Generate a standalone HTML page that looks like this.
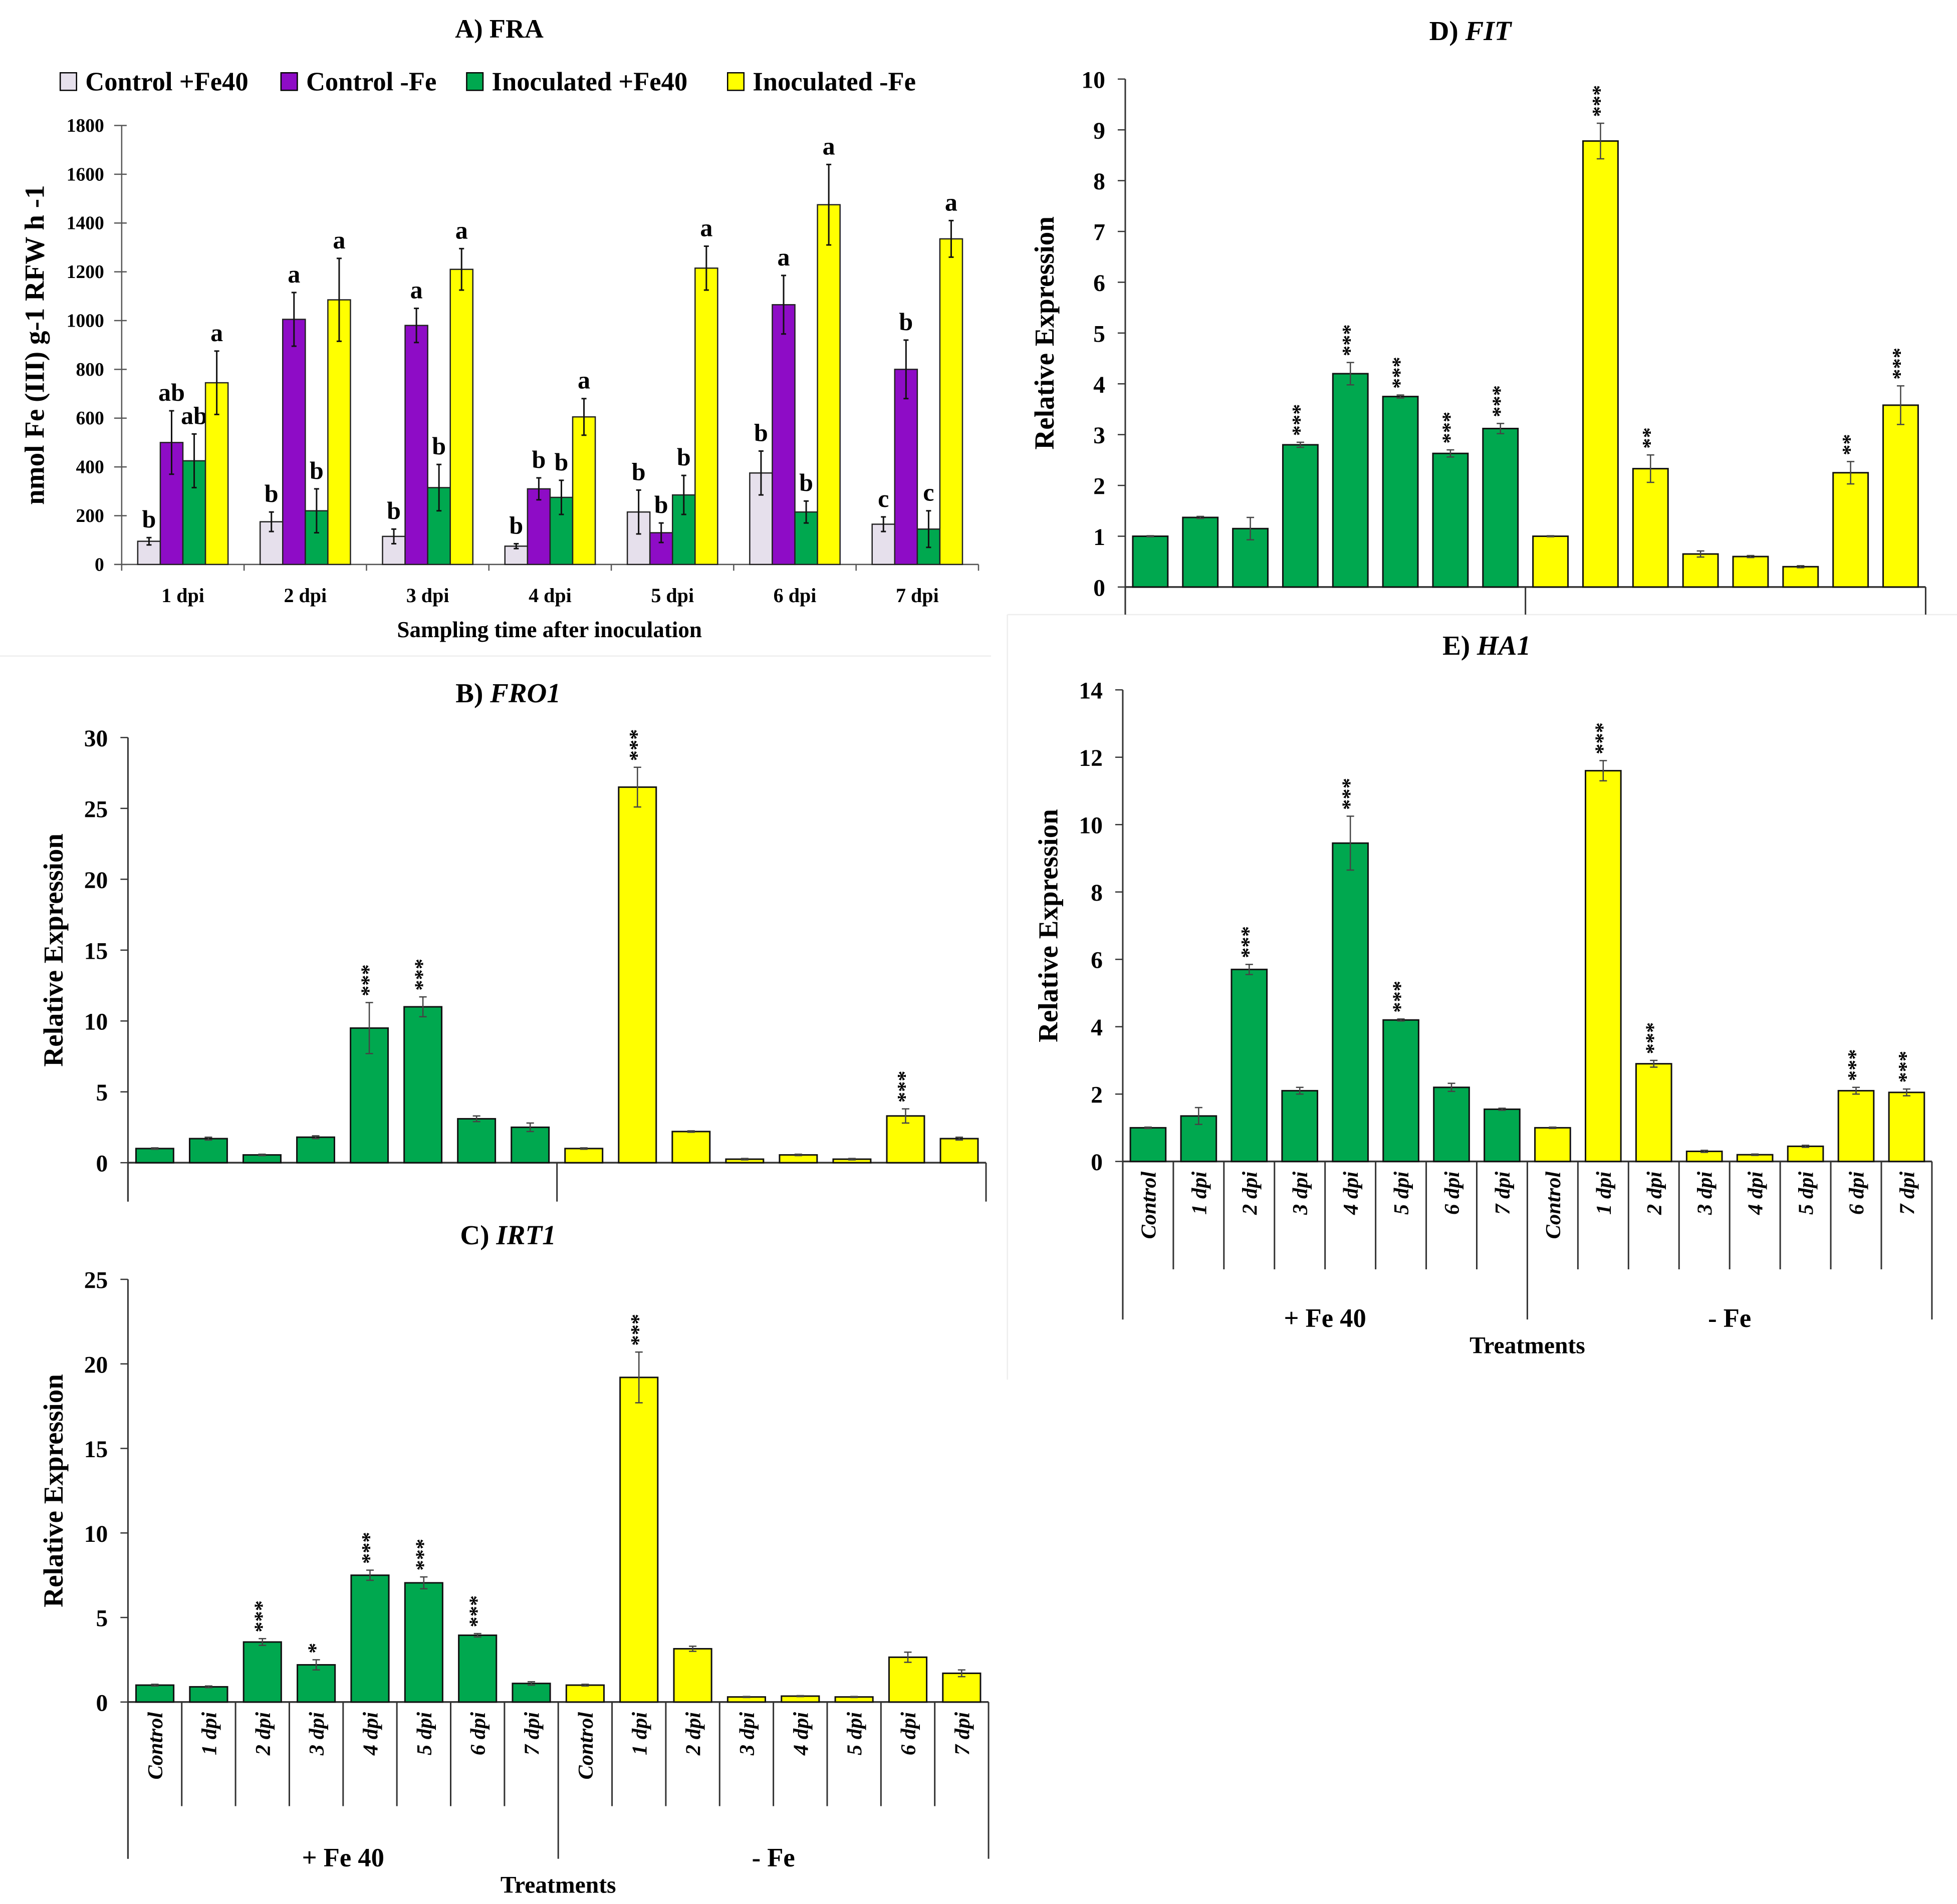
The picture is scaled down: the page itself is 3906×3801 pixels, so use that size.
<!DOCTYPE html>
<html><head><meta charset="utf-8"><style>
html,body{margin:0;padding:0;background:#fff}
svg{display:block}
text{font-family:"Liberation Serif",serif;font-weight:bold;fill:#000}
</style></head><body>
<svg id="chart" width="3906" height="3801" viewBox="0 0 1560 1518" xmlns="http://www.w3.org/2000/svg">
<line x1="0" y1="523" x2="790" y2="523" stroke="#eee" stroke-width="1"/>
<line x1="803" y1="490" x2="1560" y2="490" stroke="#eee" stroke-width="1"/>
<line x1="803" y1="490" x2="803" y2="1100" stroke="#eee" stroke-width="1"/>
</svg>
<script>
// Panel A data
const aCats=["1 dpi","2 dpi","3 dpi","4 dpi","5 dpi","6 dpi","7 dpi"];
const aSeries=["Control +Fe40","Control -Fe","Inoculated +Fe40","Inoculated -Fe"];
const aCtrlFe40=[95,175,115,75,215,375,165];
const aCtrlNoFe=[500,1005,980,310,130,1065,800];
const aInocFe40=[425,220,315,275,285,215,145];
const aInocNoFe=[745,1085,1210,605,1215,1475,1335];
const aErrCtrlFe40=[15,40,30,10,90,90,30];
const aErrCtrlNoFe=[130,110,70,45,40,120,120];
const aErrInocFe40=[110,90,95,70,80,45,75];
const aErrInocNoFe=[130,170,85,75,90,165,75];
const aLetCtrlFe40=["b","b","b","b","b","b","c"];
const aLetCtrlNoFe=["ab","a","a","b","b","a","b"];
const aLetInocFe40=["ab","b","b","b","b","b","c"];
const aLetInocNoFe=["a","a","a","a","a","a","a"];
const aTicks=[0,200,400,600,800,1000,1200,1400,1600,1800];

// Gene panels
const geneCats=["Control","1 dpi","2 dpi","3 dpi","4 dpi","5 dpi","6 dpi","7 dpi","Control","1 dpi","2 dpi","3 dpi","4 dpi","5 dpi","6 dpi","7 dpi"];
const froVals=[1,1.7,0.55,1.8,9.5,11,3.1,2.5,1,26.5,2.2,0.25,0.55,0.25,3.3,1.7];
const froErr=[0.05,0.1,0.05,0.1,1.8,0.7,0.2,0.3,0.05,1.4,0.05,0.05,0.05,0.05,0.5,0.1];
const froStars=["","","","","***","***","","","","***","","","","","***",""];
const froTicks=[0,5,10,15,20,25,30];
const irtVals=[1,0.9,3.55,2.2,7.5,7.05,3.95,1.1,1,19.2,3.15,0.3,0.35,0.3,2.65,1.7];
const irtErr=[0.05,0.05,0.2,0.3,0.3,0.35,0.1,0.1,0.05,1.5,0.15,0.03,0.03,0.03,0.3,0.2];
const irtStars=["","","***","*","***","***","***","","","***","","","","","",""];
const irtTicks=[0,5,10,15,20,25];
const fitVals=[1,1.37,1.15,2.8,4.2,3.75,2.63,3.12,1,8.78,2.33,0.65,0.6,0.4,2.25,3.58];
const fitErr=[0.01,0.02,0.22,0.05,0.22,0.03,0.07,0.1,0.01,0.35,0.27,0.06,0.02,0.02,0.22,0.38];
const fitStars=["","","","***","***","***","***","***","","***","**","","","","**","***"];
const fitTicks=[0,1,2,3,4,5,6,7,8,9,10];
const haVals=[1,1.35,5.7,2.1,9.45,4.2,2.2,1.55,1,11.6,2.9,0.3,0.2,0.45,2.1,2.05];
const haErr=[0.02,0.25,0.15,0.1,0.8,0.03,0.12,0.03,0.02,0.3,0.1,0.03,0.02,0.03,0.1,0.1];
const haStars=["","","***","","***","***","","","","***","***","","","","***","***"];
const haTicks=[0,2,4,6,8,10,12,14];

const NS="http://www.w3.org/2000/svg";
const svg=document.getElementById('chart');
function el(tag,attrs,parent,txt){const e=document.createElementNS(NS,tag);for(const k in attrs)e.setAttribute(k,attrs[k]);if(txt!==undefined)e.textContent=txt;(parent||svg).appendChild(e);return e;}

// ---- Panel A ----
(function(){
  const g=el('g',{});
  
  
  const x0=97,x1=780,y0=450,yTop=100,maxV=1800;
  const yS=v=>y0-(v/maxV)*(y0-yTop);
  const gw=(x1-x0)/aCats.length;
  const cx=i=>x0+gw*(i+0.5);
  const t=el('text',{x:398,y:30,'font-size':21,'text-anchor':'middle'},g,'A) FRA');
  
  
  const colors=['#e6e0ec','#8e0cc6','#00a84f','#ffff00'];
  const legX=[48,224,372,580];
  aSeries.forEach((s,k)=>{
    const r=el('rect',{x:legX[k],y:58,width:13,height:14,fill:colors[k],stroke:'#000','stroke-width':1},g);
    
    
    const lt=el('text',{x:legX[k]+20,y:72,'font-size':21},g,s);
    
    
  });
  el('line',{x1:x0,y1:yTop,x2:x0,y2:y0,stroke:'#555','stroke-width':1},g);
  el('line',{x1:x0,y1:y0,x2:x1,y2:y0,stroke:'#555','stroke-width':1},g);
  aTicks.forEach(v=>{
    el('line',{x1:x0-6,y1:yS(v),x2:x0+4,y2:yS(v),stroke:'#555'},g);
    const tt=el('text',{x:x0-14,y:yS(v)+5,'font-size':15,'text-anchor':'end'},g,String(v));
    
    
  });
  for(let i=0;i<=aCats.length;i++){el('line',{x1:x0+gw*i,y1:y0,x2:x0+gw*i,y2:y0+5,stroke:'#555'},g);}
  const vals=[aCtrlFe40,aCtrlNoFe,aInocFe40,aInocNoFe];
  const errs=[aErrCtrlFe40,aErrCtrlNoFe,aErrInocFe40,aErrInocNoFe];
  const lets=[aLetCtrlFe40,aLetCtrlNoFe,aLetInocFe40,aLetInocNoFe];
  const offs=[-27,-9,9,27],bw=18;
  aCats.forEach((c,i)=>{
    const ct=el('text',{x:cx(i),y:y0+30,'font-size':16,'text-anchor':'middle'},g,c);
    
    
    for(let k=0;k<4;k++){
      const v=vals[k][i],x=cx(i)+offs[k];
      const b=el('rect',{x:x-bw/2,y:yS(v),width:bw,height:y0-yS(v),fill:colors[k],stroke:'#222','stroke-width':1},g);
      
      
      const et=yS(v+errs[k][i]),eb=yS(Math.max(0,v-errs[k][i]));
      el('line',{x1:x,y1:et,x2:x,y2:eb,stroke:'#111','stroke-width':1.2},g);
      el('line',{x1:x-2,y1:et,x2:x+2,y2:et,stroke:'#111','stroke-width':1.2},g);
      el('line',{x1:x-2,y1:eb,x2:x+2,y2:eb,stroke:'#111','stroke-width':1.2},g);
      const lt=el('text',{x:x,y:et-8,'font-size':20,'text-anchor':'middle'},g,lets[k][i]);
      
      
    }
  });
  const yl=el('text',{x:0,y:0,'font-size':22,'text-anchor':'middle',transform:'translate(35,275) rotate(-90)'},g,'nmol Fe (III) g-1 RFW h -1');
  
  
  const xl=el('text',{x:438,y:508,'font-size':18,'text-anchor':'middle'},g,'Sampling time after inoculation');
  
  
})();

// ---- generic gene panel ----
function genePanel(o){
  const g=el('g',{});
  
  
  const {x0,x1,y0,yTop,vals,errs,stars,ticks}=o;
  const maxV=ticks[ticks.length-1];
  const yS=v=>y0-(v/maxV)*(y0-yTop);
  const sp=(x1-x0)/vals.length;
  const cx=i=>x0+sp*(i+0.5);
  const bw=sp*0.7;
  const tt=el('text',{x:o.tx,y:o.ty,'font-size':22,'text-anchor':'middle'},g);
  
  
  el('tspan',{},tt,o.letter+' ');
  el('tspan',{'font-style':'italic'},tt,o.gene);
  el('line',{x1:x0,y1:yTop,x2:x0,y2:o.axisBottom,stroke:'#333','stroke-width':1.2},g);
  el('line',{x1:x0,y1:y0,x2:x1,y2:y0,stroke:'#333','stroke-width':1.4},g);
  ticks.forEach(v=>{
    el('line',{x1:x0-6,y1:yS(v),x2:x0,y2:yS(v),stroke:'#333'},g);
    const t=el('text',{x:x0-16,y:yS(v)+7,'font-size':19,'text-anchor':'end'},g,String(v));
    
    
  });
  vals.forEach((v,i)=>{
    const col=i<8?'#00a84f':'#ffff00';
    const b=el('rect',{x:cx(i)-bw/2,y:yS(v),width:bw,height:y0-yS(v),fill:col,stroke:'#111','stroke-width':1.2},g);
    
    
    const et=yS(v+errs[i]),eb=yS(Math.max(0,v-errs[i])),x=cx(i);
    el('line',{x1:x,y1:et,x2:x,y2:eb,stroke:'#444','stroke-width':1},g);
    el('line',{x1:x-3,y1:et,x2:x+3,y2:et,stroke:'#444','stroke-width':1},g);
    el('line',{x1:x-3,y1:eb,x2:x+3,y2:eb,stroke:'#444','stroke-width':1},g);
    if(stars[i]){
      const s=el('text',{x:0,y:0,'font-size':17,'font-weight':'normal','text-anchor':'start',transform:`translate(${x+5},${et-5}) rotate(-90)`},g,stars[i]);
      
      
    }
    if(o.labels){
      const l=el('text',{x:0,y:0,'font-size':17,'font-style':'italic','text-anchor':'end',transform:`translate(${x+6},${y0+8}) rotate(-90)`},g,geneCats[i]);
      
      
    }
  });
  for(let i=0;i<=vals.length;i++){
    const x=x0+sp*i;
    const major=(i===0||i===8||i===16);
    if(!major && !o.labels) continue;
    const bottom=major?o.axisBottom:o.divBottom;
    el('line',{x1:x,y1:y0,x2:x,y2:bottom,stroke:'#333','stroke-width':1.2},g);
  }
  if(o.labels){
    const a=el('text',{x:x0+sp*4,y:o.axisBottom+6,'font-size':21,'text-anchor':'middle'},g,'+ Fe 40');
    
    
    const b=el('text',{x:x0+sp*12,y:o.axisBottom+6,'font-size':21,'text-anchor':'middle'},g,'- Fe');
    
    
    const c=el('text',{x:x0+sp*8,y:o.axisBottom+27,'font-size':19,'text-anchor':'middle'},g,'Treatments');
    
    
  }
  const yl=el('text',{x:0,y:0,'font-size':22,'text-anchor':'middle',transform:`translate(${o.ylx},${(y0+yTop)/2}) rotate(-90)`},g,'Relative Expression');
  
  
}
genePanel({name:'panel-d-fit-chart',letter:'D)',gene:'FIT',tx:1172,ty:32,x0:897,x1:1535,y0:468,yTop:63,vals:fitVals,errs:fitErr,stars:fitStars,ticks:fitTicks,axisBottom:490,divBottom:490,labels:false,ylx:840});
genePanel({name:'panel-b-fro1-chart',letter:'B)',gene:'FRO1',tx:405,ty:560,x0:102,x1:786,y0:927,yTop:588,vals:froVals,errs:froErr,stars:froStars,ticks:froTicks,axisBottom:958,divBottom:927,labels:false,ylx:50});
genePanel({name:'panel-c-irt1-chart',letter:'C)',gene:'IRT1',tx:405,ty:992,x0:102,x1:788,y0:1357,yTop:1020,vals:irtVals,errs:irtErr,stars:irtStars,ticks:irtTicks,axisBottom:1482,divBottom:1440,labels:true,ylx:50});
genePanel({name:'panel-e-ha1-chart',letter:'E)',gene:'HA1',tx:1185,ty:522,x0:895,x1:1540,y0:926,yTop:550,vals:haVals,errs:haErr,stars:haStars,ticks:haTicks,axisBottom:1052,divBottom:1012,labels:true,ylx:843});
</script>
</body></html>
